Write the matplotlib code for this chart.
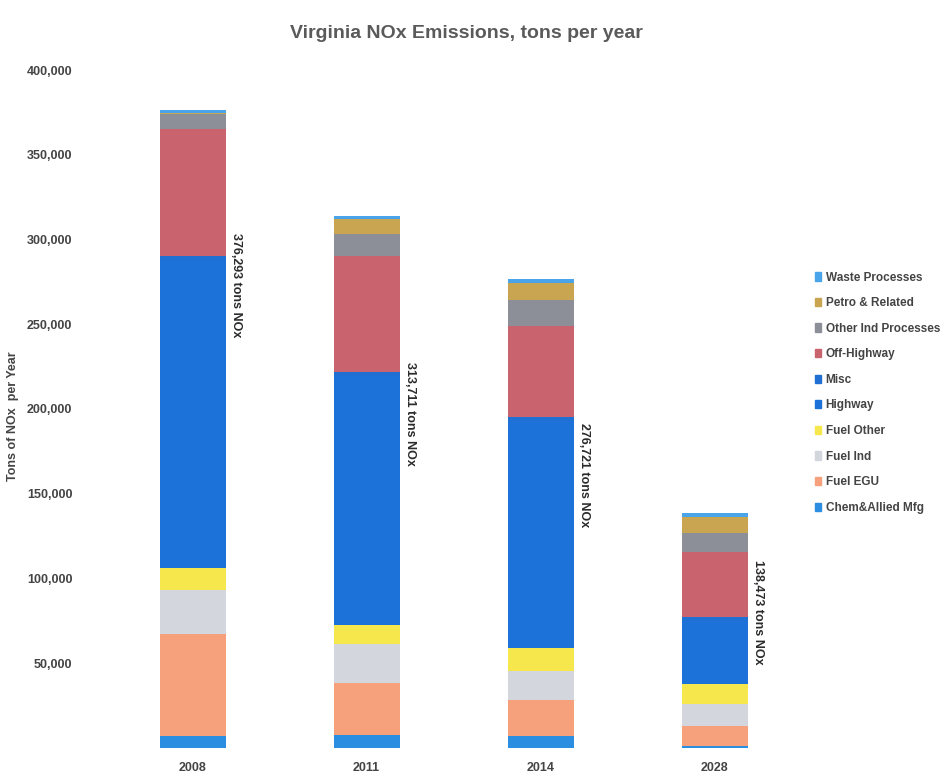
import matplotlib.pyplot as plt
import matplotlib.patches as patches
import numpy as np

# --------------------------
# Data (tons of NOx per year)
# --------------------------
years = ['2008', '2011', '2014', '2028']
totals = [376293, 313711, 276721, 138473]

chem_allied = [7000, 7500, 7000, 1000]
fuel_egu = [60000, 31000, 21000, 11700]
fuel_ind = [26000, 23000, 17600, 12900]
fuel_other = [13000, 11000, 13500, 12300]
highway = [181500, 147000, 133700, 36900]
misc = [2500, 2500, 2400, 2200]
off_highway = [75500, 68000, 54000, 38700]
other_ind = [8500, 13500, 15200, 11100]
petro = [500, 8400, 10000, 9400]
waste = [1800, 1800, 2300, 2300]

# where the rotated total label sits (tons, along the y axis)
label_y = [273000, 197000, 161000, 80000]

series = [
    ('Chem&Allied Mfg', chem_allied, '#2b8ee0'),
    ('Fuel EGU', fuel_egu, '#f7a07c'),
    ('Fuel Ind', fuel_ind, '#d3d6dc'),
    ('Fuel Other', fuel_other, '#f6e84c'),
    ('Highway', highway, '#1c72d8'),
    ('Misc', misc, '#1f70d2'),
    ('Off-Highway', off_highway, '#c9646e'),
    ('Other Ind Processes', other_ind, '#8c8f98'),
    ('Petro & Related', petro, '#c9a451'),
    ('Waste Processes', waste, '#4aa4ea'),
]

plt.rcParams['font.family'] = ['Liberation Sans', 'DejaVu Sans']
text_col = '#444444'

fig = plt.figure(figsize=(9.52, 7.79), dpi=100)
ax = fig.add_axes([0.111, 0.040, 0.731, 0.870])

x = np.arange(len(years))
bar_width = 0.38
bottom = np.zeros(len(years))
handles = []
for name, vals, col in series:
    ax.bar(x, vals, bar_width, bottom=bottom, color=col, linewidth=0)
    bottom += np.array(vals)
    handles.append(patches.Patch(color=col, label=name))

for i, tot in enumerate(totals):
    ax.text(x[i] + bar_width / 2 + 0.06, label_y[i], f'{tot:,} tons NOx',
            rotation=-90, ha='center', va='center', fontsize=9,
            fontweight='bold', color='#2b2b2b')

ax.set_xlim(-0.5, len(years) - 0.5)
ax.set_ylim(0, 400000)
ax.set_yticks(np.arange(50000, 400001, 50000))
ax.set_yticklabels([f'{v:,}' for v in range(50000, 400001, 50000)])
ax.set_xticks(x)
ax.set_xticklabels(years)
for lab in ax.get_xticklabels() + ax.get_yticklabels():
    lab.set_fontweight('bold')
    lab.set_fontsize(9)
    lab.set_color(text_col)
ax.tick_params(axis='y', length=0, pad=24)
ax.tick_params(axis='x', length=0, pad=10)
for s in ax.spines.values():
    s.set_visible(False)

ax.set_ylabel('Tons of NOx  per Year', fontsize=9, fontweight='bold',
              color=text_col, labelpad=4)
ax.yaxis.set_label_coords(-0.125, 0.49)

fig.suptitle('Virginia NOx Emissions, tons per year', x=0.49, y=0.968,
             fontsize=14, fontweight='bold', color='#5a5a5a')

leg = fig.legend(handles=handles[::-1], loc='upper left',
                 bbox_to_anchor=(0.845, 0.665), frameon=False,
                 handlelength=0.5, handleheight=0.7, handletextpad=0.4,
                 labelspacing=1.15, prop={'size': 8.5, 'weight': 'bold'})
for t in leg.get_texts():
    t.set_color(text_col)

plt.savefig('out.png', dpi=100)
